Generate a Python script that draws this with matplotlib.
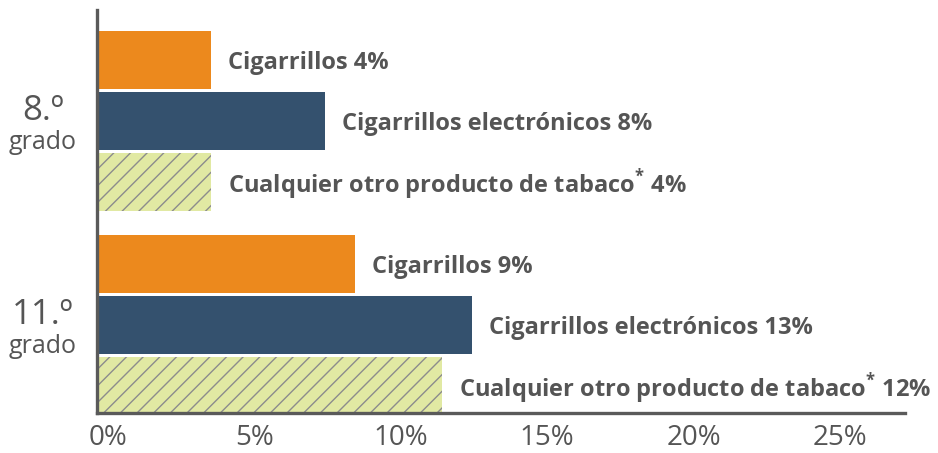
import matplotlib
matplotlib.use("Agg")
import matplotlib.pyplot as plt
import matplotlib.transforms as mtransforms

# Data
grades = ["8.º", "11.º"]
grade_word = "grado"
products = ["Cigarrillos", "Cigarrillos electrónicos", "Cualquier otro producto de tabaco"]
values_8 = [3.9, 7.8, 3.9]
values_11 = [8.8, 12.8, 11.8]
xticks = [0, 5, 10, 15, 20, 25]
xtick_labels = ["0%", "5%", "10%", "15%", "20%", "25%"]

colors = ["#EC891D", "#34516E", "#E1E9A3"]
hatches = [None, None, "//"]
text_col = "#555555"
axis_col = "#5a5a5a"
hatch_col = "#8c8c8c"

plt.rcParams["hatch.linewidth"] = 1.0
plt.rcParams["font.family"] = ["Open Sans", "DejaVu Sans"]
plt.rcParams["mathtext.fontset"] = "custom"
plt.rcParams["mathtext.rm"] = "Open Sans:bold"
plt.rcParams["mathtext.bf"] = "Open Sans:bold"

fig = plt.figure(figsize=(9.38, 4.53), dpi=100)
ax = fig.add_axes([97/938, 40/453, (905-97)/938, (413-10)/453])

group_offsets = [0.0, 3.35]
bar_h = 0.95
for gi, (vals, off) in enumerate(zip([values_8, values_11], group_offsets)):
    for pi, v in enumerate(vals):
        y = off + pi
        ax.barh(y, v, height=bar_h, color=colors[pi], hatch=hatches[pi],
                edgecolor=hatch_col if hatches[pi] else "none", linewidth=0)
        name = products[pi]
        if pi == 2:
            label = name + r"$^{\mathrm{*}}$" + f" {round(v):d}%"
        else:
            label = f"{name} {round(v):d}%"
        ax.text(v + 0.58, y + 0.05, label, va="center", ha="left",
                fontsize=17, fontweight="bold", color=text_col)

ax.set_xlim(0, 27.6)
ax.set_ylim((413-60)/61, -50/61)

ax.set_xticks(xticks)
ax.set_xticklabels([])
ax.tick_params(axis="x", length=0)
ax.set_yticks([])
tt = mtransforms.blended_transform_factory(ax.transData, ax.transAxes) + \
    mtransforms.ScaledTranslation(11/100, -11/100, fig.dpi_scale_trans)
for xv, lab in zip(xticks, xtick_labels):
    ax.text(xv, 0, lab, transform=tt, ha="center", va="top",
            fontsize=20, color=text_col)

for s in ["top", "right"]:
    ax.spines[s].set_visible(False)
for s in ["left", "bottom"]:
    ax.spines[s].set_color(axis_col)
    ax.spines[s].set_linewidth(2.4)

# grade labels
bt = mtransforms.blended_transform_factory(fig.transFigure, ax.transData)
for g, off in zip(grades, group_offsets):
    ax.text(43/938, off + 1.0 - 0.17, g, transform=bt,
            ha="center", va="center", fontsize=25, color=text_col)
    ax.text(43/938, off + 1.0 + 0.35, grade_word, transform=bt,
            ha="center", va="center", fontsize=18, color=text_col)

fig.savefig("out.png", dpi=100)
